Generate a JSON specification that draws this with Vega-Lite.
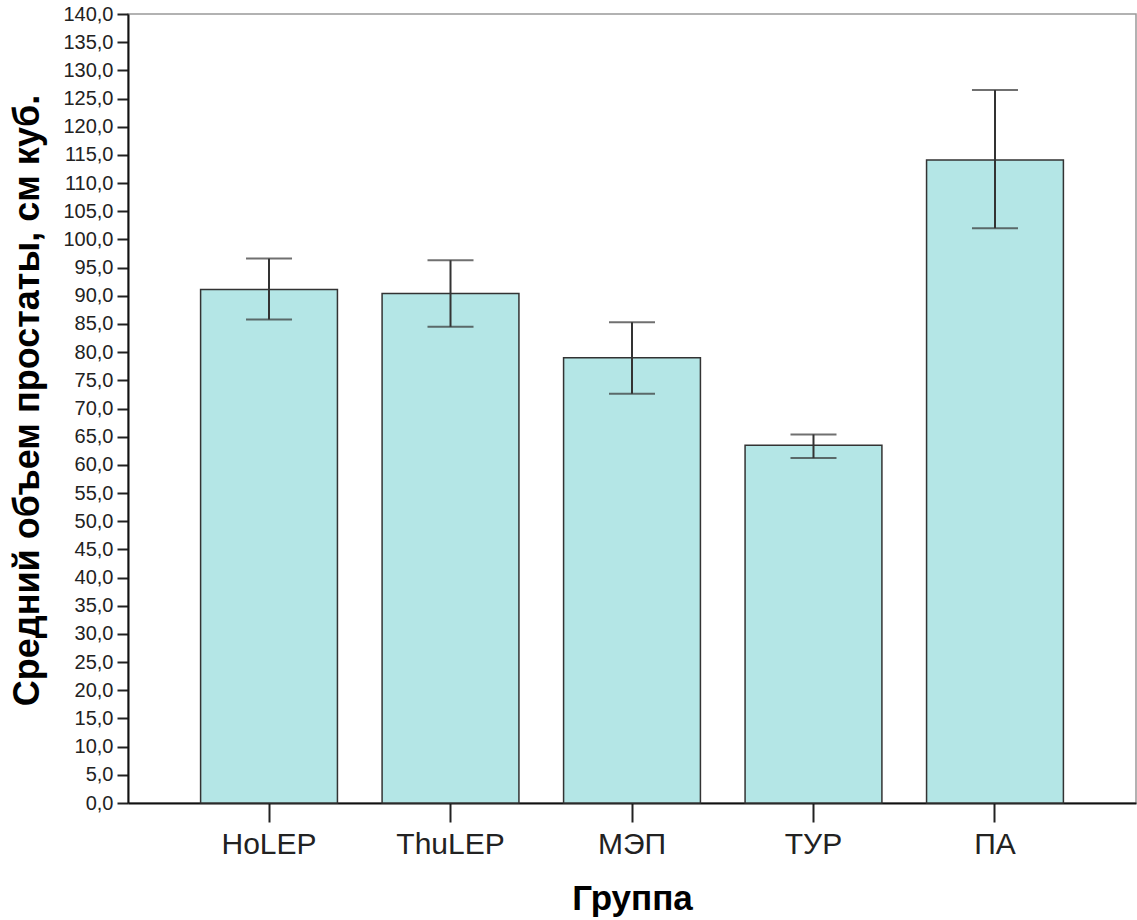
{
  "$schema": "https://vega.github.io/schema/vega-lite/v6.json",
  "autosize": "none",
  "width": 1008,
  "height": 789,
  "padding": {"left": 128, "top": 14, "right": 1, "bottom": 117},
  "background": "white",
  "config": {
    "font": "Liberation Sans",
    "view": {"stroke": "#999999", "strokeWidth": 1.5},
    "axisY": {
      "labelOverlap": false,
      "labelExpr": "replace(format(datum.value, '.1f'), '.', ',')",
      "labelFontSize": 20,
      "labelColor": "#222222",
      "labelPadding": 4,
      "tickSize": 11,
      "tickWidth": 2,
      "tickColor": "#222222",
      "domainColor": "#111111",
      "domainWidth": 2,
      "grid": false
    }
  },
  "data": {
    "values": [
      {"group": "HoLEP", "mean": 91.1, "low": 85.8, "high": 96.6},
      {"group": "ThuLEP", "mean": 90.4, "low": 84.5, "high": 96.3},
      {"group": "МЭП", "mean": 79.0, "low": 72.6, "high": 85.3},
      {"group": "ТУР", "mean": 63.5, "low": 61.2, "high": 65.4},
      {"group": "ПА", "mean": 114.1, "low": 102.0, "high": 126.5}
    ]
  },
  "layer": [
    {
      "mark": {"type": "bar", "fill": "#b4e6e6", "stroke": "#333333", "strokeWidth": 1.5},
      "encoding": {
        "x": {
          "field": "group",
          "type": "nominal",
          "sort": ["HoLEP", "ThuLEP", "МЭП", "ТУР", "ПА"],
          "scale": {"paddingInner": 0.246, "paddingOuter": 0.4},
          "axis": {
            "title": "Группа",
            "titleFontSize": 35,
            "titleFontWeight": "bold",
            "titleColor": "#000000",
            "titleBaseline": "alphabetic",
            "titleY": 106,
            "labelAngle": 0,
            "labelFontSize": 30,
            "labelColor": "#222222",
            "labelBaseline": "alphabetic",
            "labelPadding": 31,
            "tickSize": 19,
            "tickWidth": 2,
            "tickColor": "#222222",
            "domainColor": "#111111",
            "domainWidth": 2,
            "grid": false
          }
        },
        "y": {
          "field": "mean",
          "type": "quantitative",
          "scale": {"domain": [0, 140], "nice": false, "zero": true},
          "axis": {
            "title": "Средний объем простаты, см куб.",
            "titleFontSize": 36,
            "titleFontWeight": "bold",
            "titleColor": "#000000",
            "titleBaseline": "alphabetic",
            "titleAngle": -90,
            "titleAlign": "center",
            "titleX": -90,
            "titleY": 386,
            "tickCount": {"signal": "28"},
            "labelOverlap": false
          }
        }
      }
    },
    {
      "mark": {"type": "rule", "color": "#333333", "strokeWidth": 2},
      "encoding": {
        "x": {"field": "group", "type": "nominal", "sort": ["HoLEP", "ThuLEP", "МЭП", "ТУР", "ПА"]},
        "y": {"field": "low", "type": "quantitative"},
        "y2": {"field": "high"}
      }
    },
    {
      "mark": {"type": "tick", "color": "#333333", "thickness": 2, "size": 46},
      "encoding": {
        "x": {"field": "group", "type": "nominal", "sort": ["HoLEP", "ThuLEP", "МЭП", "ТУР", "ПА"]},
        "y": {"field": "low", "type": "quantitative"}
      }
    },
    {
      "mark": {"type": "tick", "color": "#333333", "thickness": 2, "size": 46},
      "encoding": {
        "x": {"field": "group", "type": "nominal", "sort": ["HoLEP", "ThuLEP", "МЭП", "ТУР", "ПА"]},
        "y": {"field": "high", "type": "quantitative"}
      }
    }
  ]
}
